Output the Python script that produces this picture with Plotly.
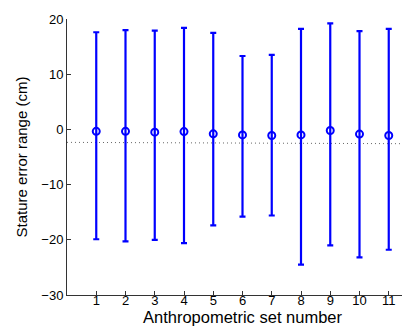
import plotly.graph_objects as go

sets = [1, 2, 3, 4, 5, 6, 7, 8, 9, 10, 11]
mean_err = [-0.35, -0.35, -0.5, -0.4, -0.8, -1.0, -1.1, -1.0, -0.2, -0.85, -1.1]
upper = [17.6, 18.0, 17.9, 18.4, 17.5, 13.3, 13.5, 18.2, 19.2, 17.8, 18.2]
lower = [-19.9, -20.3, -20.0, -20.6, -17.4, -15.8, -15.6, -24.5, -21.0, -23.2, -21.8]
ref_x = [0, 12]
ref_y = [-2.35, -2.6]
yticks = [-30, -20, -10, 0, 10, 20]

plus = [u - m for u, m in zip(upper, mean_err)]
minus = [m - l for m, l in zip(mean_err, lower)]

fig = go.Figure()
fig.add_trace(go.Scatter(
    x=ref_x, y=ref_y, mode="lines",
    line=dict(color="#666666", width=1, dash="1px,3px"),
    showlegend=False, hoverinfo="skip"))
fig.add_trace(go.Scatter(
    x=sets, y=mean_err, mode="markers",
    marker=dict(symbol="circle-open", size=7, color="#0000ff", line=dict(width=2, color="#0000ff")),
    error_y=dict(type="data", symmetric=False, array=plus, arrayminus=minus,
                 color="#0000ff", thickness=2.2, width=3),
    showlegend=False))

fam = "Liberation Sans, Arial, sans-serif"
fig.update_layout(
    width=410, height=331,
    margin=dict(l=59, r=0, t=11, b=44),
    paper_bgcolor="white", plot_bgcolor="white",
    font=dict(family=fam, size=13, color="#000000"),
    xaxis=dict(range=[0, 12], tickvals=sets, ticktext=[str(s) for s in sets],
               ticks="inside", ticklen=4, tickcolor="#333333",
               showline=True, linecolor="#333333", linewidth=1,
               showgrid=False, zeroline=False, ticklabelstandoff=-7,
               title=dict(text="Anthropometric set number", font=dict(size=16.5), standoff=0)),
    yaxis=dict(range=[-30, 20], tickvals=yticks, ticktext=[str(t).replace("-", "\u2212") for t in yticks],
               ticks="inside", ticklen=4, tickcolor="#333333",
               showline=True, linecolor="#333333", linewidth=1,
               showgrid=False, zeroline=False,
               title=dict(text="Stature error range (cm)", font=dict(size=15), standoff=10)),
)
fig.write_html("out.html")
